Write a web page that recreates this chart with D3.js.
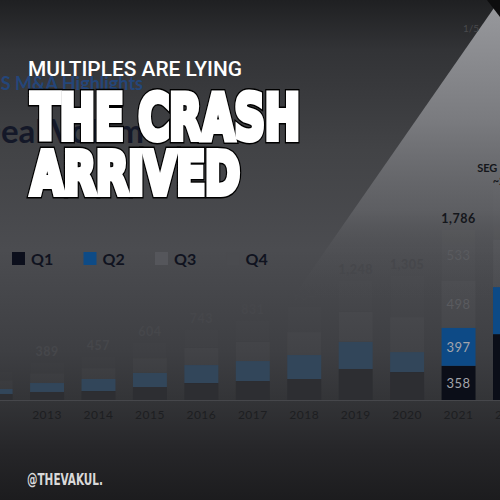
<!DOCTYPE html>
<html>
<head>
<meta charset="utf-8">
<script src="https://cdn.jsdelivr.net/npm/d3@7"></script>
<style>
  html, body { margin: 0; padding: 0; background: #1c1c1e; }
  svg { display: block; }
</style>
</head>
<body>
<script>
// values (deals per quarter)
var years = [2012, 2013, 2014, 2015, 2016, 2017, 2018, 2019, 2020, 2021, 2022];
var q1 = [63, 84, 94, 136, 178, 199, 220, 325, 293, 358, 690];
var q2 = [52, 94, 126, 147, 188, 209, 251, 283, 209, 397, 492];
var q3 = [90, 100, 115, 155, 180, 200, 240, 314, 366, 498, 500];
var q4 = [95, 111, 122, 166, 197, 223, 273, 326, 437, 533, 518];
var totalLabels = [null, "389", "457", "604", "743", "831", "984", "1,248", "1,305", "1,786", null];
var quarters = ["Q1", "Q2", "Q3", "Q4"];
var tickYears = years.slice(1); // the 2012 label is cut off in the source
var highlightYears = [2021, 2022];
var segmentLabelYear = 2021;
var estimateLines = ["SEG Estimate", "~2,200"];

var W = 500, H = 500;

var svg = d3.select("body").append("svg")
    .attr("width", W)
    .attr("height", H);

var defs = svg.append("defs");

// background gradient
var bg = defs.append("linearGradient")
    .attr("id", "bg").attr("x1", 0).attr("y1", 0).attr("x2", 0).attr("y2", 1);
[[0, "#1f2022"], [0.1, "#323336"], [0.3, "#424346"], [0.5, "#4b4c50"],
 [0.7, "#3e3f43"], [0.8, "#333437"], [0.9, "#262629"], [1, "#1c1c1e"]]
  .forEach(function(s) {
    bg.append("stop").attr("offset", s[0]).attr("stop-color", s[1]);
  });

var wedge = defs.append("linearGradient")
    .attr("id", "wedge").attr("gradientUnits", "userSpaceOnUse")
    .attr("x1", 0).attr("y1", 0).attr("x2", 0).attr("y2", 300);
[[0, "#999a9e", 1], [0.4, "#7a7b7f", 1], [0.7, "#636468", 0.8], [0.85, "#55565a", 0.3], [1, "#4a4b4f", 0]]
  .forEach(function(s) {
    wedge.append("stop").attr("offset", s[0]).attr("stop-color", s[1]).attr("stop-opacity", s[2]);
  });

svg.append("rect").attr("width", W).attr("height", H).attr("fill", "url(#bg)");

svg.append("path")
    .attr("d", "M503,-5 L505,-5 L505,300 L291,300 Z")
    .attr("fill", "url(#wedge)");

svg.append("path")
    .attr("d", "M487,0 L500,0 L500,17 Z")
    .attr("fill", "#0d0d0e");

svg.append("text")
    .attr("x", 463).attr("y", 32)
    .style("font-family", "Lato").style("font-size", "10px")
    .attr("fill", "#48494c")
    .text("1/5");

// slide heading behind the title
svg.append("text")
    .attr("x", 143).attr("y", 90)
    .attr("text-anchor", "end")
    .style("font-family", "Lato").style("font-weight", "bold").style("font-size", "18px")
    .attr("fill", "#24467a")
    .text("SaaS M&A Highlights");

svg.append("text")
    .attr("x", -24).attr("y", 143)
    .style("font-family", "Lato").style("font-weight", "bold").style("font-size", "33px")
    .attr("fill", "#141828")
    .text("Deal Volume");

// legend
var legendColors = ["#0c0f1c", "#0e4b86", "#55565b", "#4a4b4f"];
var legend = svg.append("g").attr("transform", "translate(12,252)");
quarters.forEach(function(q, i) {
  var row = legend.append("g").attr("transform", "translate(" + (i * 71.5) + ",0)");
  row.append("rect")
      .attr("width", 13).attr("height", 13)
      .attr("fill", legendColors[i]);
  row.append("text")
      .attr("x", 19).attr("y", 12.5)
      .style("font-family", "Lato").style("font-weight", "bold").style("font-size", "16px")
      .attr("fill", "#10131f")
      .text(q);
});

// chart
var data = years.map(function(yr, i) {
  return { year: yr, Q1: q1[i], Q2: q2[i], Q3: q3[i], Q4: q4[i] };
});

var xScale = d3.scaleBand()
    .domain(years)
    .range([-30.1, 535.7])
    .paddingInner(0.34)
    .paddingOuter(0.17);

var yScale = d3.scaleLinear()
    .domain([0, 2200])
    .range([400, 190]);

var fullColor = { Q1: "#0b0e18", Q2: "#0d4a86", Q3: "rgba(255,255,255,0.03)", Q4: "rgba(255,255,255,0.012)" };
var dimColor  = { Q1: "#2d2e32", Q2: "#32465a", Q3: "rgba(255,255,255,0.022)", Q4: "rgba(255,255,255,0.008)" };

function isHi(yr) { return highlightYears.indexOf(yr) >= 0; }

var stacked = d3.stack().keys(quarters)(data);

svg.append("line")
    .attr("x1", 0).attr("x2", W)
    .attr("y1", 400.5).attr("y2", 400.5)
    .attr("stroke", "#46474b");

var layers = svg.selectAll("g.layer")
    .data(stacked)
    .enter().append("g")
    .attr("class", "layer");

layers.selectAll("rect")
    .data(function(d) { return d.map(function(v) { v.key = d.key; return v; }); })
    .enter().append("rect")
    .attr("x", function(d) { return xScale(d.data.year); })
    .attr("width", xScale.bandwidth())
    .attr("y", function(d) { return yScale(d[1]); })
    .attr("height", function(d) { return yScale(d[0]) - yScale(d[1]); })
    .attr("fill", function(d) { return isHi(d.data.year) ? fullColor[d.key] : dimColor[d.key]; });

// labels inside the highlighted bar
var segColor = { Q1: "#a3a5ab", Q2: "#a3a5ab", Q3: "#5a5b5f", Q4: "#5a5b5f" };
stacked.forEach(function(s) {
  var d = s.find(function(v) { return v.data.year === segmentLabelYear; });
  svg.append("text")
      .attr("x", xScale(segmentLabelYear) + xScale.bandwidth() / 2)
      .attr("y", (yScale(d[0]) + yScale(d[1])) / 2)
      .attr("dy", "0.36em")
      .attr("text-anchor", "middle")
      .style("font-family", "Lato").style("font-size", "13px").style("letter-spacing", "0.5px")
      .attr("fill", segColor[s.key])
      .text(d.data[s.key]);
});

// totals
svg.selectAll("text.total")
    .data(data.filter(function(d, i) { return totalLabels[i] !== null; }))
    .enter().append("text")
    .attr("class", "total")
    .attr("x", function(d) { return xScale(d.year) + xScale.bandwidth() / 2; })
    .attr("y", function(d) { return yScale(d.Q1 + d.Q2 + d.Q3 + d.Q4) - 6.5; })
    .attr("text-anchor", "middle")
    .style("font-family", "Lato").style("font-weight", "bold").style("font-size", "12.5px")
    .style("letter-spacing", "0.5px")
    .attr("fill", function(d) { return isHi(d.year) ? "#14161b" : "#46474b"; })
    .text(function(d) { return totalLabels[years.indexOf(d.year)]; });

var est = svg.append("text")
    .attr("text-anchor", "middle")
    .style("font-family", "Lato").style("font-weight", "bold").style("font-size", "11px")
    .attr("fill", "#14161b");
estimateLines.forEach(function(t, i) {
  est.append("tspan")
      .attr("x", xScale(2022) + xScale.bandwidth() / 2)
      .attr("y", 172 + i * 13)
      .text(t);
});

var xAxis = svg.append("g")
    .attr("transform", "translate(0,400)")
    .call(d3.axisBottom(xScale).tickValues(tickYears).tickSize(0).tickPadding(10));
xAxis.select(".domain").remove();
xAxis.selectAll("text")
    .style("font-family", "Lato").style("font-size", "12px").style("letter-spacing", "0.5px")
    .attr("fill", "#1d1e21");

// overlay headline
svg.append("text")
    .attr("x", 28).attr("y", 76)
    .attr("textLength", 214).attr("lengthAdjust", "spacingAndGlyphs")
    .style("font-family", "Roboto").style("font-weight", "500").style("font-size", "21px")
    .attr("fill", "#ffffff")
    .text("MULTIPLES ARE LYING");

var bigLines = [
  { text: "THE CRASH", x: 31, y: 139, size: 63, len: 269 },
  { text: "ARRIVED", x: 31, y: 194, size: 59, len: 209 }
];
bigLines.forEach(function(l) {
  [["#000000", 9], ["#ffffff", 6]].forEach(function(s) {
    svg.append("text")
        .attr("x", l.x).attr("y", l.y)
        .attr("textLength", l.len).attr("lengthAdjust", "spacingAndGlyphs")
        .style("font-family", "'DejaVu Sans Condensed', 'DejaVu Sans'")
        .style("font-weight", "bold").style("font-size", l.size + "px")
        .attr("fill", "#ffffff")
        .attr("stroke", s[0]).attr("stroke-width", s[1])
        .attr("stroke-linejoin", "miter").attr("stroke-miterlimit", 3)
        .text(l.text);
  });
});

svg.append("text")
    .attr("x", 27).attr("y", 485)
    .attr("textLength", 76).attr("lengthAdjust", "spacingAndGlyphs")
    .style("font-family", "'DejaVu Sans Condensed', 'DejaVu Sans'")
    .style("font-weight", "bold").style("font-size", "15px")
    .attr("fill", "#d9d9d9")
    .text("@THEVAKUL.");
</script>
</body>
</html>
